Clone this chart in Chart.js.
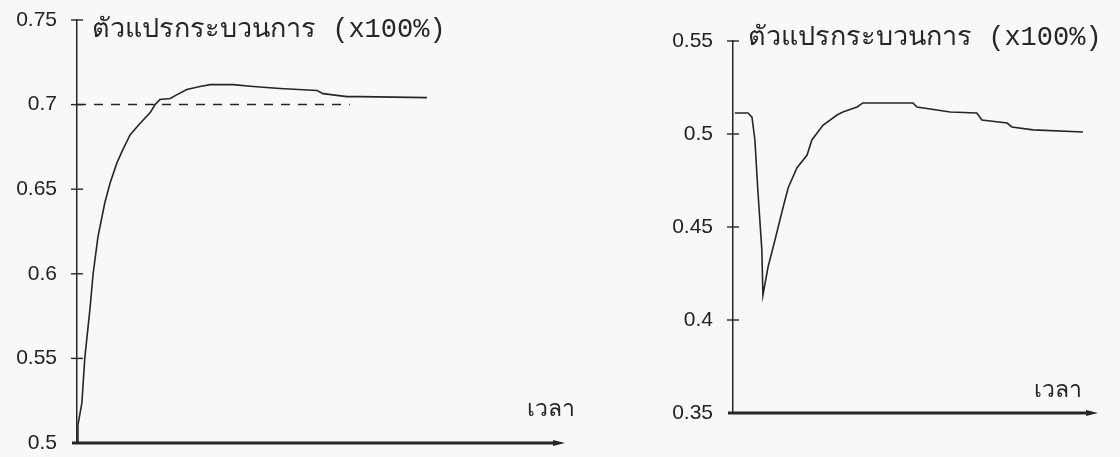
<!DOCTYPE html>
<html>
<head>
<meta charset="utf-8">
<script src="https://cdn.jsdelivr.net/npm/chart.js@4.4.1/dist/chart.umd.min.js"></script>
<style>
  html, body { margin: 0; padding: 0; background: #f8f8f6; }
  body { width: 1120px; height: 457px; position: relative; overflow: hidden; }
  canvas { position: absolute; top: 0; display: block; }
  #leftChart { left: 0; }
  #rightChart { left: 600px; }
</style>
</head>
<body>
<canvas id="leftChart" width="600" height="457"></canvas>
<canvas id="rightChart" width="520" height="457"></canvas>
<script>
// ---- data ----
const axisTitle = 'ตัวแปรกระบวนการ (x100%)';
const timeLabel = 'เวลา';

// Response 1: rise to set point 0.7 (time in % of axis length)
const leftTime = [0, 0.2, 1.0, 1.6, 2.7, 3.3, 4.3, 5.7, 6.8, 8.2, 9.4, 10.9, 12.9, 15.0, 16.0, 17.0,
  19.1, 20.5, 22.5, 25.2, 27.3, 32.0, 36.1, 41.6, 49.2, 50.4, 55.3, 58.0, 71.7];
const leftValue = [0.5, 0.5107, 0.5237, 0.5503, 0.5805, 0.600, 0.6219, 0.642, 0.6538, 0.6657, 0.6734,
  0.6822, 0.6888, 0.6953, 0.700, 0.703, 0.7036, 0.7059, 0.7089, 0.7107, 0.7118, 0.7118, 0.7107,
  0.7095, 0.7083, 0.7065, 0.7047, 0.7047, 0.7041];
const setPointTime = [0, 55.9];
const setPointValue = [0.7, 0.7];
const leftTicks = [0.5, 0.55, 0.6, 0.65, 0.7, 0.75];

// Response 2: disturbance dip and recovery
const rightTime = [0.5, 4.1, 5.2, 6.0, 6.8, 7.9, 8.2, 9.6, 11.5, 13.4, 15.1, 17.5, 20.3, 21.6, 24.7,
  28.5, 30.1, 34.0, 35.6, 49.3, 50.4, 59.5, 66.8, 68.2, 75.1, 76.4, 82.2, 95.9];
const rightValue = [0.5113, 0.5113, 0.5091, 0.4968, 0.4699, 0.4376, 0.4134, 0.4285, 0.443, 0.4581,
  0.471, 0.4817, 0.4887, 0.4968, 0.5048, 0.5102, 0.5118, 0.5145, 0.5167, 0.5167, 0.5145, 0.5118,
  0.5113, 0.5075, 0.5059, 0.5038, 0.5022, 0.5011];
const rightTicks = [0.35, 0.4, 0.45, 0.5, 0.55];

// ---- drawing ----
const INK = '#262626';
const pairs = (xs, ys) => xs.map((x, i) => ({ x: x, y: ys[i] }));
const fmtTick = v => String(Number(v.toFixed(2)));

// Draws the arrowed time axis, cross ticks on the value axis and the two axis captions
const decorPlugin = {
  id: 'decor',
  afterDraw(chart, args, opts) {
    const ctx = chart.ctx;
    const a = chart.chartArea;
    const yScale = chart.scales.y;
    ctx.save();
    ctx.strokeStyle = INK;
    ctx.fillStyle = INK;

    // time axis with arrow head
    const y0 = a.bottom;
    ctx.lineWidth = 3;
    ctx.beginPath();
    ctx.moveTo(a.left - 5, y0);
    ctx.lineTo(a.right - 8, y0);
    ctx.stroke();
    ctx.beginPath();
    ctx.moveTo(a.right - 12, y0 - 3);
    ctx.lineTo(a.right, y0);
    ctx.lineTo(a.right - 12, y0 + 3);
    ctx.closePath();
    ctx.fill();

    // crossing tick marks on the value axis
    ctx.lineWidth = 1.4;
    yScale.ticks.forEach(t => {
      if (t.value <= yScale.min + 1e-9) return;
      const py = yScale.getPixelForValue(t.value);
      ctx.beginPath();
      ctx.moveTo(a.left - 6, py);
      ctx.lineTo(a.left + 6, py);
      ctx.stroke();
    });

    // value axis caption
    ctx.font = '27px "Liberation Mono", "DejaVu Sans Mono", monospace';
    ctx.textBaseline = 'middle';
    ctx.textAlign = 'left';
    ctx.fillText(axisTitle, a.left + opts.titleDx, a.top + opts.titleDy);

    // time axis caption
    ctx.font = '23px "DejaVu Sans", "Noto Sans", sans-serif';
    ctx.textAlign = 'right';
    ctx.fillText(timeLabel, a.right + opts.timeDx, a.bottom + opts.timeDy);
    ctx.restore();
  }
};

function makeChart(id, datasets, yMin, yMax, tickList, axisWidth, padding, decor) {
  return new Chart(document.getElementById(id), {
    type: 'line',
    data: { datasets: datasets },
    options: {
      responsive: false,
      animation: false,
      layout: { padding: padding },
      plugins: { legend: { display: false }, tooltip: { enabled: false }, decor: decor },
      elements: { point: { radius: 0 }, line: { tension: 0 } },
      scales: {
        x: { type: 'linear', min: 0, max: 100, display: false },
        y: {
          type: 'linear', min: yMin, max: yMax,
          afterFit(scale) {
            // fixed axis gutter; labels may overhang the plot edges
            scale.width = axisWidth;
            scale.paddingTop = 0;
            scale.paddingBottom = 0;
          },
          afterBuildTicks(scale) { scale.ticks = tickList.map(v => ({ value: v })); },
          ticks: {
            callback: fmtTick,
            color: '#222222',
            padding: 20,
            font: { family: '"Liberation Sans", Arial, sans-serif', size: 21 }
          },
          grid: { display: true, drawOnChartArea: false, drawTicks: false },
          border: { display: true, color: INK, width: 1.5 }
        }
      }
    },
    plugins: [decorPlugin]
  });
}

makeChart('leftChart', [
  { data: pairs(leftTime, leftValue), borderColor: INK, borderWidth: 1.6, fill: false },
  { data: pairs(setPointTime, setPointValue), borderColor: INK, borderWidth: 1.5,
    borderDash: [9, 8], fill: false }
], 0.5, 0.75, leftTicks, 77, { top: 20, bottom: 14, right: 35, left: 0 },
  { titleDx: 15, titleDy: 10, timeDx: 10, timeDy: -33 });

makeChart('rightChart', [
  { data: pairs(rightTime, rightValue), borderColor: INK, borderWidth: 1.6, fill: false }
], 0.35, 0.55, rightTicks, 133, { top: 41, bottom: 44, right: 22, left: 0 },
  { titleDx: 15, titleDy: -3, timeDx: -16, timeDy: -22 });
</script>
</body>
</html>
